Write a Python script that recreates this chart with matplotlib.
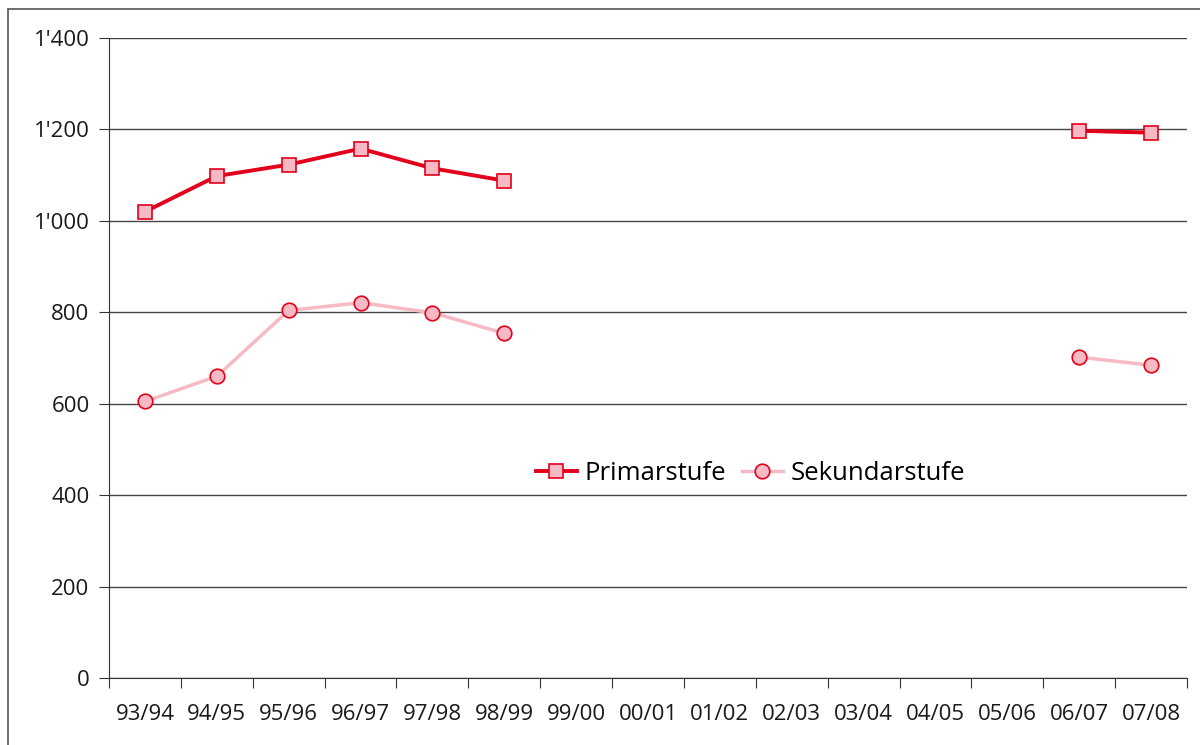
import numpy as np
import matplotlib.pyplot as plt
from matplotlib.patches import Rectangle

plt.rcParams['font.family'] = ['Open Sans', 'DejaVu Sans']

years = ["93/94", "94/95", "95/96", "96/97", "97/98", "98/99", "99/00", "00/01",
         "01/02", "02/03", "03/04", "04/05", "05/06", "06/07", "07/08"]
nan = np.nan
primar = [1020, 1098, 1123, 1158, 1115, 1088, nan, nan, nan, nan, nan, nan, nan, 1197, 1193]
sekundar = [605, 660, 804, 821, 799, 754, nan, nan, nan, nan, nan, nan, nan, 702, 684]

red = "#E2001A"
pink_line = "#F6BAC4"
pink_face = "#F7B9C3"

fig = plt.figure(figsize=(12, 7.45), dpi=100)
ax = fig.add_axes([109 / 1200, 1 - 678 / 745, (1187 - 109) / 1200, (678 - 38) / 745])

x = np.arange(len(years))
ax.plot(x, primar, color=red, lw=2.8, marker="s", markersize=10.5,
        markerfacecolor=pink_face, markeredgecolor=red, markeredgewidth=1.2,
        label="Primarstufe", zorder=3)
ax.plot(x, sekundar, color=pink_line, lw=2.5, marker="o", markersize=10.5,
        markerfacecolor=pink_face, markeredgecolor=red, markeredgewidth=1.2,
        label="Sekundarstufe", zorder=3)

ax.set_ylim(0, 1400)
ax.set_xlim(-0.5, len(years) - 0.5)
yt = np.arange(0, 1401, 200)
ax.set_yticks(yt)
ax.set_yticklabels([f"{v:,}".replace(",", "'") for v in yt])
ax.yaxis.grid(True, color="#444444", lw=1)
ax.set_axisbelow(True)

# ticks between categories, labels centred on categories
ax.set_xticks(np.arange(len(years) + 1) - 0.5)
ax.set_xticklabels([])
ax.set_xticks(x, minor=True)
ax.set_xticklabels(years, minor=True)
ax.tick_params(axis="x", which="minor", length=0, pad=19, labelsize=16, colors="#1a1a1a")
ax.tick_params(axis="x", which="major", length=7, direction="out", color="#333333")
ax.tick_params(axis="y", length=7, direction="out", labelsize=16, pad=7,
               colors="#1a1a1a", color="#333333")
for s in ["top", "right"]:
    ax.spines[s].set_visible(False)
for s in ["left", "bottom"]:
    ax.spines[s].set_color("#333333")

ax.legend(loc="center", bbox_to_anchor=(0.595, 0.319), ncol=2, frameon=False,
          fontsize=18.5, handlelength=1.6, handletextpad=0.3, columnspacing=0.6)

fig.patches.append(Rectangle((8 / 1200, -0.1), 1.2, 1 - 9 / 745 + 0.1,
                             transform=fig.transFigure, fill=False,
                             edgecolor="#555555", lw=1.2))

fig.savefig("out.png", dpi=100)
